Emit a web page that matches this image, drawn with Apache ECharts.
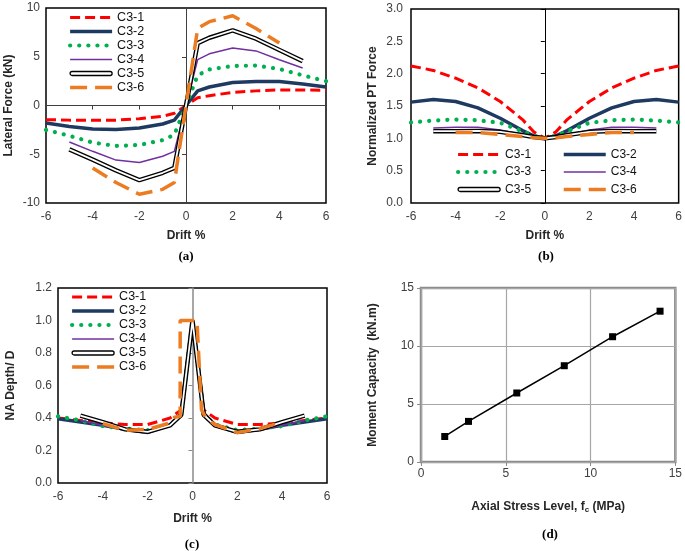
<!DOCTYPE html>
<html>
<head>
<meta charset="utf-8">
<script src="https://cdn.jsdelivr.net/npm/echarts@6/dist/echarts.min.js"></script>
<style>
  html, body { margin: 0; padding: 0; background: #fff; }
  #chart { width: 685px; height: 551px; }
</style>
</head>
<body>
<div id="chart"></div>
<script>
// drift steps used by the tests
const driftFull = [-6, -5, -4, -3, -2, -1, -0.5, 0, 0.5, 1, 2, 3, 4, 5, 6]
const driftMid = [-5, -4, -3, -2, -1, -0.5, 0, 0.5, 1, 2, 3, 4, 5]
const driftShort = [-4, -3, -2, -1, -0.5, 0, 0.5, 1, 2, 3, 4]

// (a) lateral force, kN
const forceC31 = [-1.45, -1.5, -1.5, -1.5, -1.35, -1.1, -0.8, 0, 0.8, 1.0, 1.35, 1.5, 1.6, 1.6, 1.55]
const forceC32 = [-1.8, -2.15, -2.4, -2.45, -2.3, -1.9, -1.5, 0, 1.5, 1.9, 2.35, 2.45, 2.45, 2.2, 1.9]
const forceC33 = [-2.5, -3.1, -3.8, -4.15, -4.05, -3.55, -3.0, 0, 3.1, 3.7, 4.05, 4.1, 3.75, 3.1, 2.5]
const forceC34 = [-3.75, -4.7, -5.6, -5.85, -5.2, -4.7, 0, 4.7, 5.3, 5.9, 5.6, 4.7, 3.85]
const forceC35 = [-4.5, -5.55, -6.65, -7.65, -6.9, -6.4, 0, 6.4, 6.95, 7.7, 6.85, 5.7, 4.55]
const forceC36 = [-6.4, -7.9, -9.1, -8.6, -7.9, 0, 7.9, 8.6, 9.2, 7.9, 6.4]

// (b) normalized PT force
const ptC31 = [2.12, 2.05, 1.93, 1.78, 1.57, 1.29, 1.1, 1.0, 1.1, 1.29, 1.57, 1.78, 1.93, 2.05, 2.12]
const ptC32 = [1.56, 1.6, 1.57, 1.47, 1.31, 1.12, 1.04, 1.0, 1.04, 1.12, 1.31, 1.47, 1.57, 1.6, 1.56]
const ptC33 = [1.245, 1.275, 1.29, 1.28, 1.24, 1.11, 1.04, 1.0, 1.04, 1.11, 1.24, 1.28, 1.29, 1.275, 1.245]
const ptC34 = [1.16, 1.17, 1.17, 1.13, 1.06, 1.02, 1.0, 1.02, 1.06, 1.13, 1.17, 1.17, 1.16]
const ptC35 = [1.11, 1.11, 1.115, 1.1, 1.05, 1.02, 1.0, 1.02, 1.05, 1.1, 1.115, 1.11, 1.11]
const ptC36 = [1.09, 1.09, 1.06, 1.03, 1.01, 1.0, 1.01, 1.03, 1.06, 1.09, 1.09]

// (c) NA depth / D
const naC31 = [0.4, 0.385, 0.37, 0.36, 0.36, 0.4, 0.45, 1.0, 0.45, 0.4, 0.36, 0.36, 0.37, 0.385, 0.4]
const naC32 = [0.395, 0.375, 0.355, 0.33, 0.315, 0.355, 0.43, 1.0, 0.43, 0.355, 0.315, 0.33, 0.355, 0.375, 0.395]
const naC33 = [0.41, 0.385, 0.35, 0.335, 0.325, 0.36, 0.42, 1.0, 0.42, 0.36, 0.325, 0.335, 0.35, 0.385, 0.41]
const naC34 = [0.385, 0.355, 0.325, 0.305, 0.35, 0.42, 1.0, 0.42, 0.35, 0.305, 0.325, 0.355, 0.385]
const naC35 = [0.415, 0.375, 0.33, 0.315, 0.355, 0.42, 1.0, 0.42, 0.355, 0.315, 0.33, 0.375, 0.415]
const driftC36 = [-4, -3, -2, -1, -0.8, -0.55, -0.55, 0.2, 0.4, 0.6, 1, 2, 3, 4]
const naC36 = [0.365, 0.325, 0.33, 0.37, 0.405, 0.41, 1.0, 1.0, 0.45, 0.4, 0.36, 0.31, 0.335, 0.375]

// (d) moment capacity vs axial stress
const stressLevel = [1.4, 2.8, 5.65, 8.45, 11.3, 14.1]
const momentCap = [2.2, 3.5, 5.95, 8.3, 10.8, 13.0]

const pairs = (xs, ys) => xs.map((x, i) => [x, ys[i]])

const lineStyles = {
  'C3-1': { color: '#FF0000', width: 3, type: [10, 5] },
  'C3-2': { color: '#1F3A60', width: 3.5, type: 'solid' },
  'C3-3': { color: '#00B050', width: 4.2, type: [0.1, 9], cap: 'round' },
  'C3-4': { color: '#7030A0', width: 1.5, type: 'solid' },
  'C3-6': { color: '#EC7C22', width: 3.5, type: [17, 8] }
}

const mk = (name, data, xi, yi) => {
  if (name === 'C3-5') {
    // double line: black outline with a white core
    return [
      { name, type: 'line', xAxisIndex: xi, yAxisIndex: yi, data, symbol: 'none',
        lineStyle: { color: '#000', width: 4.5 }, itemStyle: { color: '#000' } },
      { name, type: 'line', xAxisIndex: xi, yAxisIndex: yi, data, symbol: 'none',
        lineStyle: { color: '#fff', width: 1.8 }, itemStyle: { color: '#000' } }
    ]
  }
  const ls = lineStyles[name]
  return [{ name, type: 'line', xAxisIndex: xi, yAxisIndex: yi, data, symbol: 'none',
    lineStyle: ls, itemStyle: { color: ls.color } }]
}

const panel = (xi, yi, sets) => sets.flatMap(([name, xs, ys]) => mk(name, pairs(xs, ys), xi, yi))

const seriesA = panel(0, 0, [
  ['C3-1', driftFull, forceC31], ['C3-2', driftFull, forceC32], ['C3-3', driftFull, forceC33],
  ['C3-4', driftMid, forceC34], ['C3-5', driftMid, forceC35], ['C3-6', driftShort, forceC36]
])
const seriesB = panel(2, 2, [
  ['C3-1', driftFull, ptC31], ['C3-2', driftFull, ptC32], ['C3-3', driftFull, ptC33],
  ['C3-4', driftMid, ptC34], ['C3-5', driftMid, ptC35], ['C3-6', driftShort, ptC36]
])
const seriesC = panel(3, 4, [
  ['C3-1', driftFull, naC31], ['C3-2', driftFull, naC32], ['C3-3', driftFull, naC33],
  ['C3-4', driftMid, naC34], ['C3-5', driftMid, naC35], ['C3-6', driftC36, naC36]
])
const seriesD = [{
  type: 'line', xAxisIndex: 4, yAxisIndex: 6, data: pairs(stressLevel, momentCap),
  symbol: 'rect', symbolSize: 7, lineStyle: { color: '#000', width: 1.5 }, itemStyle: { color: '#000' }
}]

const tickFont = { fontFamily: 'Liberation Sans', fontSize: 12, color: '#404040' }
const titleFont = { fontFamily: 'Liberation Sans', fontSize: 12, fontWeight: 'bold', color: '#262626' }

const labelAxis = (gridIndex, min, max, interval, pos, extra) => Object.assign({
  gridIndex, type: 'value', min, max, interval, position: pos,
  axisLine: { show: false, onZero: false }, axisTick: { show: false }, splitLine: { show: false },
  axisLabel: Object.assign({}, tickFont), nameLocation: 'middle', nameTextStyle: titleFont
}, extra)

const zeroAxis = (gridIndex, min, max, interval, pos, color, width) => ({
  gridIndex, type: 'value', min, max, interval, position: pos,
  axisLine: { onZero: true, lineStyle: { color, width } },
  axisTick: { length: 4, lineStyle: { color, width: 1 } },
  axisLabel: { show: false }, splitLine: { show: false }
})

const oneDec = (v) => v.toFixed(1)

const legendBase = {
  orient: 'vertical', itemWidth: 42, itemHeight: 12, padding: 0, selectedMode: false,
  textStyle: { fontFamily: 'Liberation Sans', fontSize: 12.5, color: '#111' },
  lineStyle: { width: 'inherit' },
  // hide the marker ECharts puts on line legend icons
  itemStyle: { color: 'transparent', borderColor: 'transparent', borderWidth: 0 }
}
const c35Icon = {
  name: 'C3-5', icon: 'path://M2,0L40,0A2,2,0,0,1,40,4L2,4A2,2,0,0,1,2,0Z',
  itemStyle: { color: '#fff', borderColor: '#000', borderWidth: 1.3 }
}
const item = (n) => (n === 'C3-5' ? c35Icon : { name: n })

const chart = echarts.init(document.getElementById('chart'))
chart.setOption({
  animation: false,
  backgroundColor: '#fff',
  grid: [
    { left: 46, top: 8, width: 280, height: 195, show: true, borderColor: '#000', borderWidth: 1.5 },
    { left: 411, top: 9, width: 270, height: 194, show: true, borderColor: '#000', borderWidth: 1.5 },
    { left: 58, top: 288, width: 269, height: 195, show: true, borderColor: '#000', borderWidth: 1.5 },
    { left: 421, top: 288, width: 256, height: 174, show: true, borderColor: '#8C8C8C', borderWidth: 2.5 }
  ],
  xAxis: [
    labelAxis(0, -6, 6, 2, 'bottom', { name: 'Drift %', nameGap: 27, axisLabel: Object.assign({}, tickFont, { margin: 8 }) }),
    zeroAxis(0, -6, 6, 2, 'bottom', '#404040', 1),
    labelAxis(1, -6, 6, 2, 'bottom', { name: 'Drift %', nameGap: 27, axisLabel: Object.assign({}, tickFont, { margin: 8 }) }),
    labelAxis(2, -6, 6, 2, 'bottom', { name: 'Drift %', nameGap: 30, axisLabel: Object.assign({}, tickFont, { margin: 8 }) }),
    labelAxis(3, 0, 15, 5, 'bottom', {
      name: 'Axial Stress Level, f{sub|c} (MPa)', nameGap: 38,
      nameTextStyle: Object.assign({}, titleFont, { rich: { sub: { fontFamily: 'Liberation Sans', fontSize: 8, fontWeight: 'bold', color: '#262626', padding: [6, 0, 0, 0] } } }),
      axisTick: { show: true, length: 4, lineStyle: { color: '#8C8C8C' } },
      splitLine: { show: true, lineStyle: { color: '#A6A6A6', width: 1.2 } },
      axisLabel: Object.assign({}, tickFont, { margin: 6 })
    })
  ],
  yAxis: [
    labelAxis(0, -10, 10, 5, 'left', { name: 'Lateral Force (kN)', nameGap: 31, axisLabel: Object.assign({}, tickFont, { margin: 6 }) }),
    zeroAxis(0, -10, 10, 5, 'left', '#404040', 1),
    labelAxis(1, 0, 3, 0.5, 'left', { name: 'Normalized PT Force', nameGap: 32, axisLabel: Object.assign({}, tickFont, { margin: 8, formatter: oneDec }) }),
    zeroAxis(1, 0, 3, 0.5, 'left', '#000', 1),
    labelAxis(2, 0, 1.2, 0.2, 'left', { name: 'NA Depth/ D', nameGap: 41, axisLabel: Object.assign({}, tickFont, { margin: 6, formatter: oneDec }) }),
    zeroAxis(2, 0, 1.2, 0.2, 'left', '#8A8A8A', 1.5),
    labelAxis(3, 0, 15, 5, 'left', {
      name: 'Moment Capacity  (kN.m)', nameGap: 42,
      axisTick: { show: true, length: 4, lineStyle: { color: '#8C8C8C' } },
      splitLine: { show: true, lineStyle: { color: '#A6A6A6', width: 1.2 } },
      axisLabel: Object.assign({}, tickFont, { margin: 7 })
    })
  ],
  legend: [
    Object.assign({}, legendBase, { left: 68, top: 11, itemGap: 1.0, data: ['C3-1', 'C3-2', 'C3-3', 'C3-4', 'C3-5', 'C3-6'].map(item) }),
    Object.assign({}, legendBase, { left: 456, top: 148.5, itemGap: 5.5, textStyle: Object.assign({}, legendBase.textStyle, { fontSize: 12 }), data: ['C3-1', 'C3-3', 'C3-5'].map(item) }),
    Object.assign({}, legendBase, { left: 562, top: 148.5, itemGap: 5.5, textStyle: Object.assign({}, legendBase.textStyle, { fontSize: 12 }), data: ['C3-2', 'C3-4', 'C3-6'].map(item) }),
    Object.assign({}, legendBase, { left: 70, top: 290.5, itemGap: 1.0, data: ['C3-1', 'C3-2', 'C3-3', 'C3-4', 'C3-5', 'C3-6'].map(item) })
  ],
  graphic: [
    ['(a)', 186, 257], ['(b)', 546, 257], ['(c)', 192, 545], ['(d)', 550, 535]
  ].map(([text, x, y]) => ({
    type: 'text', x, y,
    style: { text, fontFamily: 'Liberation Serif', fontSize: 13, fontWeight: 'bold', fill: '#000', align: 'center', verticalAlign: 'middle' }
  })),
  series: [...seriesA, ...seriesB, ...seriesC, ...seriesD]
})
</script>
</body>
</html>
